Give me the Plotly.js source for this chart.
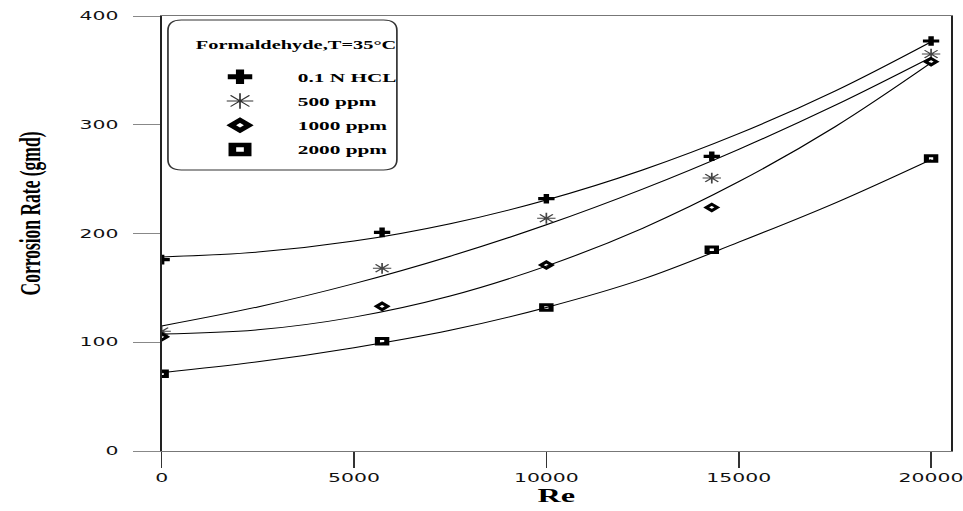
<!DOCTYPE html>
<html><head><meta charset="utf-8">
<script src="https://cdn.plot.ly/plotly-3.0.1.min.js"></script>
<style>
html,body{margin:0;padding:0;background:#fff;overflow:hidden;}
#wrap{width:963px;height:511px;overflow:hidden;position:relative;}
#chart{width:566px;height:511px;transform:scaleX(1.70141);transform-origin:0 0;}
</style></head>
<body><div id="wrap"><div id="chart"></div></div>
<script>
// Measured points
const reValues = [0, 5730, 10000, 14300, 20000];
const hclRate = [176, 201, 232, 271, 377];
const ppm500Rate = [110, 168, 214, 251, 365];
const ppm1000Rate = [105, 133, 171, 224, 358];
const ppm2000Rate = [71, 101, 132, 185, 269];
// Fitted curves
const curveRe = [0, 2500, 5000, 7500, 10000, 12500, 15000, 17500, 20000];
const hclCurve = [178.5, 182.9, 193.0, 209.0, 230.8, 258.4, 291.8, 331.0, 376.3];
const ppm500Curve = [115, 132.5, 153.9, 179.1, 208, 240.8, 277.4, 317.8, 362];
const ppm1000Curve = [107.5, 111.4, 123.1, 142.5, 170, 204.8, 247.6, 298.1, 357];
const ppm2000Curve = [72, 82, 95, 111, 132, 158, 192, 228, 268];
const seriesNames = ['0.1 N HCL', '500 ppm', '1000 ppm', '2000 ppm'];
const xTicks = [0, 5000, 10000, 15000, 20000];
const yTicks = [0, 100, 200, 300, 400];
const legendTitle = 'Formaldehyde,T=35°C';

const pointSets = [hclRate, ppm500Rate, ppm1000Rate, ppm2000Rate];
const curveSets = [hclCurve, ppm500Curve, ppm1000Curve, ppm2000Curve];
const markerStyles = [
  {symbol:'cross', size:8, color:'#000', line:{width:0}},
  {symbol:'asterisk-open', size:9, color:'#444', line:{width:1, color:'#444'}},
  {symbol:'diamond-open', size:5, color:'#000', line:{width:2.5, color:'#000'}},
  {symbol:'square-open', size:5.5, color:'#000', line:{width:3, color:'#000'}}
];
const legendMarkerStyles = [
  {symbol:'cross', size:12, color:'#000', line:{width:0}},
  {symbol:'asterisk-open', size:13, color:'#333', line:{width:1, color:'#333'}},
  {symbol:'diamond-open', size:8, color:'#000', line:{width:4, color:'#000'}},
  {symbol:'square-open', size:9, color:'#000', line:{width:4.5, color:'#000'}}
];

const traces = [];
curveSets.forEach((c, i) => {
  traces.push({x: curveRe, y: c, type:'scatter', mode:'lines', showlegend:false,
    line:{color:'#000', width:1, shape:'spline', smoothing:1}, hoverinfo:'skip'});
});
pointSets.forEach((p, i) => {
  traces.push({x: reValues, y: p, type:'scatter', mode:'markers', name: seriesNames[i],
    showlegend:false, marker: markerStyles[i]});
});
// legend entries (no points of their own)
seriesNames.forEach((n, i) => {
  traces.push({x:[null], y:[null], type:'scatter', mode:'markers', name:n,
    legendgroup:'g'+i, marker: legendMarkerStyles[i]});
});

const serif = 'Liberation Serif, Times New Roman, serif';
const layout = {
  width:566, height:511,
  margin:{l:95, r:7, t:16, b:60},
  paper_bgcolor:'#fff', plot_bgcolor:'#fff',
  font:{family:'Liberation Sans, Arial, sans-serif', color:'#000'},
  showlegend:true,
  xaxis:{range:[0,20520], tickvals:xTicks, ticktext:xTicks.map(String), ticks:'outside', ticklen:16,
    tickcolor:'#333', tickwidth:1, showline:true, linecolor:'#777', linewidth:1, mirror:true,
    showgrid:false, zeroline:false, ticklabeloverflow:'allow',
    tickfont:{family:'DejaVu Sans, sans-serif', size:12, color:'#111'},
    title:{text:'Re', font:{family:serif, size:19, weight:'bold', color:'#000'}, standoff:2}},
  yaxis:{range:[0,400], tickvals:yTicks, ticktext:yTicks.map(String), ticks:'outside', ticklen:16,
    tickcolor:'#888', tickwidth:1, showline:true, linecolor:'#222', linewidth:1, mirror:true,
    showgrid:false, zeroline:false, ticklabelstandoff:6,
    tickfont:{family:'DejaVu Sans, sans-serif', size:12, color:'#111'}},
  legend:{x:0.026, y:0.894, xanchor:'left', yanchor:'top', bgcolor:'rgba(0,0,0,0)', borderwidth:0,
    font:{family:serif, size:12.5, weight:'bold', color:'#000'},
    itemsizing:'trace', tracegroupgap:5, itemwidth:58},
  annotations:[
    {text:'Corrosion Rate (gmd)', textangle:-90, xref:'paper', yref:'paper',
      x:-0.167, y:0.545, xanchor:'center', yanchor:'middle', showarrow:false,
      font:{family:serif, size:17.5, weight:'bold', color:'#000'}},
    {text:legendTitle, xref:'paper', yref:'paper', x:0.0397, y:0.933, xanchor:'left', yanchor:'middle',
      showarrow:false, font:{family:serif, size:12, weight:'bold', color:'#000'}}
  ],
  shapes:[(function(){
    const x0=0.008, x1=0.298, y0=0.646, y1=0.9908, rx=0.017, ry=0.024;
    return {type:'path', xref:'paper', yref:'paper', layer:'below',
      line:{color:'#333', width:1},
      path:`M ${x0+rx},${y1} L ${x1-rx},${y1} Q ${x1},${y1} ${x1},${y1-ry} L ${x1},${y0+ry} Q ${x1},${y0} ${x1-rx},${y0} L ${x0+rx},${y0} Q ${x0},${y0} ${x0},${y0+ry} L ${x0},${y1-ry} Q ${x0},${y1} ${x0+rx},${y1} Z`};
  })()]
};
Plotly.newPlot('chart', traces, layout, {staticPlot:true, displayModeBar:false});
</script>
</body></html>
